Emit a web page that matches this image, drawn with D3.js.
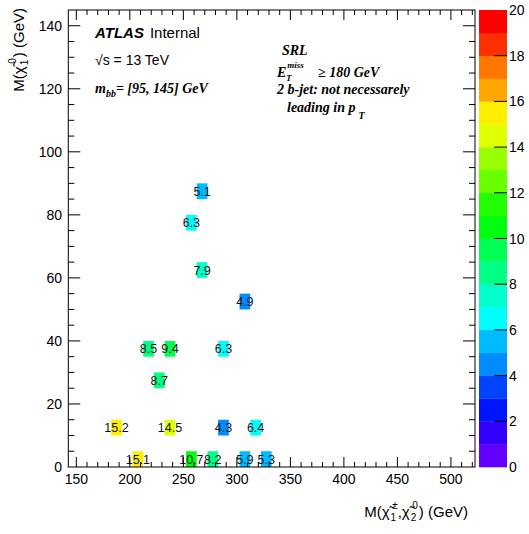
<!DOCTYPE html>
<html><head><meta charset="utf-8">
<script src="https://cdn.jsdelivr.net/npm/d3@7"></script>
<style>body{margin:0;background:#fff}svg{display:block}</style>
</head><body>
<svg id="c" width="529" height="534"></svg>
<script>
// ---- data ----
const xMass = [267.5, 257.5, 267.5, 307.5, 217.5, 237.5, 287.5, 227.5, 187.5, 237.5, 287.5, 317.5, 207.5, 257.5, 277.5, 307.5, 327.5];
const yMass = [87.5, 77.5, 62.5, 52.5, 37.5, 37.5, 37.5, 27.5, 12.5, 12.5, 12.5, 12.5, 2.5, 2.5, 2.5, 2.5, 2.5];
const zVals = [5.1, 6.3, 7.9, 4.9, 8.5, 9.4, 6.3, 8.7, 15.2, 14.5, 4.3, 6.4, 15.1, 10.7, 8.2, 5.9, 5.3];
const xTicks = [150, 200, 250, 300, 350, 400, 450, 500];
const yTicks = [0, 20, 40, 60, 80, 100, 120, 140];
const zTicks = [0, 2, 4, 6, 8, 10, 12, 14, 16, 18, 20];

const svg = d3.select("#c");
const L = 68.3, R = 475, T = 10, B = 467;
const x = d3.scaleLinear().domain([142.5, 522.5]).range([L, R]);
const y = d3.scaleLinear().domain([0, 145]).range([B, T]);
const z = d3.scaleLinear().domain([0, 20]).range([467, 10]);
const binW = 10, binH = 5;

// ROOT-like rainbow palette with 20 contour levels
const nLev = 20;
function levColor(k) {
  const idx = Math.floor((k + 0.99) * 50 / nLev);
  const hue = 280 - (idx + 1) * 5.6;
  return d3.hsl(hue, 1, 0.5).formatHex();
}
function colorOf(v) { return levColor(Math.min(nLev - 1, Math.floor(v))); }

const sans = "'Liberation Sans', Arial, Helvetica, sans-serif";
const serif = "'Liberation Serif', 'Times New Roman', serif";

// cells
const data = zVals.map((v, i) => ({x: xMass[i], y: yMass[i], v}));
const g = svg.append("g");
g.selectAll("rect.cell").data(data).join("rect")
  .attr("x", d => x(d.x - binW / 2)).attr("width", d => x(d.x + binW / 2) - x(d.x - binW / 2))
  .attr("y", d => y(d.y + binH / 2)).attr("height", d => y(d.y - binH / 2) - y(d.y + binH / 2))
  .attr("fill", d => colorOf(d.v));
g.selectAll("text.cell").data(data).join("text")
  .attr("x", d => x(d.x)).attr("y", d => y(d.y)).attr("dy", "0.36em")
  .attr("text-anchor", "middle").attr("font-family", sans).attr("font-size", 12.5)
  .attr("fill", "#111").text(d => d.v.toFixed(1));

// axes (ROOT style: ticks inside)
const ax = svg.append("g").attr("stroke", "#000").attr("stroke-width", 1).attr("fill", "none");
const xMinor = d3.range(150, 521, 10);
const yMinor = d3.range(5, 145, 5);
xMinor.forEach(v => {
  const major = v % 50 === 0, len = major ? 10 : 5;
  ax.append("line").attr("x1", x(v)).attr("x2", x(v)).attr("y1", B).attr("y2", B - len);
  ax.append("line").attr("x1", x(v)).attr("x2", x(v)).attr("y1", T).attr("y2", T + len);
});
yMinor.forEach(v => {
  const major = v % 20 === 0, len = major ? 12 : 6;
  ax.append("line").attr("x1", L).attr("x2", L + len).attr("y1", y(v)).attr("y2", y(v));
  ax.append("line").attr("x1", R).attr("x2", R - len).attr("y1", y(v)).attr("y2", y(v));
});
ax.append("rect").attr("x", L).attr("y", T).attr("width", R - L).attr("height", B - T);

svg.append("g").selectAll("text").data(xTicks).join("text")
  .attr("x", d => x(d)).attr("y", 484).attr("text-anchor", "middle")
  .attr("font-family", sans).attr("font-size", 14).text(d => d);
svg.append("g").selectAll("text").data(yTicks).join("text")
  .attr("x", 62).attr("y", d => y(d)).attr("dy", "0.36em").attr("text-anchor", "end")
  .attr("font-family", sans).attr("font-size", 14).text(d => d);

// color bar
const CB0 = 479, CB1 = 507;
svg.append("g").selectAll("rect").data(d3.range(nLev)).join("rect")
  .attr("x", CB0).attr("width", CB1 - CB0)
  .attr("y", k => z(k + 1)).attr("height", k => z(k) - z(k + 1) + 0.3)
  .attr("fill", k => levColor(k));
svg.append("g").attr("stroke", "#000").selectAll("line").data(zTicks.slice(1, -1)).join("line")
  .attr("x1", CB1).attr("x2", CB1 - 13).attr("y1", d => z(d)).attr("y2", d => z(d));
svg.append("g").selectAll("text").data(zTicks).join("text")
  .attr("x", 509).attr("y", d => z(d)).attr("dy", "0.36em")
  .attr("font-family", sans).attr("font-size", 14).text(d => d);

// axis titles (chi-tilde with stacked sub/superscripts)
function chi(t, sub, sup) {
  t.append("tspan").text("χ\u0303");
  t.append("tspan").attr("dy", 4).attr("dx", 1).attr("font-size", 10).text(sub);
  t.append("tspan").attr("dy", -12).attr("dx", -4).attr("font-size", 10).text(sup);
}
const xt = svg.append("text").attr("x", 468).attr("y", 517).attr("text-anchor", "end")
  .attr("font-family", sans).attr("font-size", 15);
xt.append("tspan").text("M(");
chi(xt, "1", "±");
xt.append("tspan").attr("dy", 8).text(",");
chi(xt, "2", "0");
xt.append("tspan").attr("dy", 8).attr("dx", 1).text(") (GeV)");

const yt = svg.append("text").attr("transform", "translate(24,8) rotate(-90)")
  .attr("text-anchor", "end").attr("font-family", sans).attr("font-size", 15);
yt.append("tspan").text("M(");
chi(yt, "1", "0");
yt.append("tspan").attr("dy", 8).attr("dx", 1).text(") (GeV)");

// labels
const t1 = svg.append("text").attr("x", 95).attr("y", 38).attr("font-family", sans).attr("font-size", 15);
t1.append("tspan").attr("font-weight", "bold").attr("font-style", "italic").text("ATLAS");
t1.append("tspan").attr("dx", 6).text("Internal");
svg.append("text").attr("x", 95).attr("y", 65).attr("font-family", sans).attr("font-size", 14).text("√s = 13 TeV");
const t3 = svg.append("text").attr("x", 95).attr("y", 93).attr("font-family", serif).attr("font-size", 14)
  .attr("font-weight", "bold").attr("font-style", "italic");
t3.append("tspan").text("m");
t3.append("tspan").attr("dy", 4).attr("font-size", 10).text("bb");
t3.append("tspan").attr("dy", -4).text("= [95, 145] GeV");

const s = svg.append("g").attr("font-family", serif).attr("font-weight", "bold").attr("font-style", "italic").attr("font-size", 14);
s.append("text").attr("x", 282).attr("y", 55).text("SRL");
const e = s.append("text").attr("x", 277).attr("y", 77);
e.append("tspan").text("E");
e.append("tspan").attr("dy", -9).attr("dx", 1).attr("font-size", 9).text("miss");
s.append("text").attr("x", 286).attr("y", 81).attr("font-size", 9).text("T");
s.append("text").attr("x", 318).attr("y", 77).text("≥ 180 GeV");
s.append("text").attr("x", 277).attr("y", 94).text("2 b-jet: not necessarely");
const lp = s.append("text").attr("x", 287).attr("y", 112);
lp.append("tspan").text("leading in p");
lp.append("tspan").attr("dy", 7).attr("dx", 3).attr("font-size", 10).text("T");
</script>
</body></html>
